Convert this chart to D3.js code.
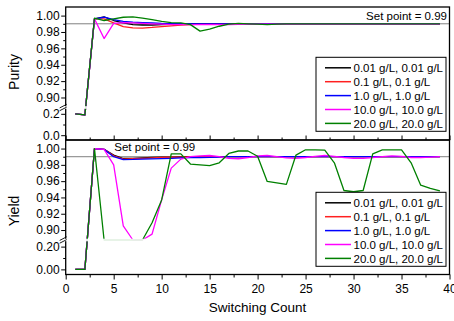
<!DOCTYPE html>
<html>
<head>
<meta charset="utf-8">
<script src="https://cdn.jsdelivr.net/npm/d3@7"></script>
<style>
body{margin:0;background:#fff}
svg{display:block;font-family:"Liberation Sans",Arial,sans-serif}
</style>
</head>
<body>
<svg id="chart" width="454" height="321"></svg>
<script>
var counts = [1,2,3,4,5,6,7,8,9,10,11,12,13,14,15,16,17,18,19,20,21,22,23,24,25,26,27,28,29,30,31,32,33,34,35,36,37,38,39]
var seriesNames = ["0.01 g/L, 0.01 g/L", "0.1 g/L, 0.1 g/L", "1.0 g/L, 1.0 g/L", "10.0 g/L, 10.0 g/L", "20.0 g/L, 20.0 g/L"]
var seriesColors = ["#000000", "#ff2020", "#0000ff", "#ff00ff", "#008000"]

var purity001 = [0.20,0.19,0.996,0.9985,0.994,0.991,0.989,0.9885,0.9885,0.989,0.9893,0.9896,0.9898,0.99,0.99,0.99,0.99,0.99,0.99,0.99,0.99,0.99,0.99,0.99,0.99,0.99,0.99,0.99,0.99,0.99,0.99,0.99,0.99,0.99,0.99,0.99,0.99,0.99,0.99]
var purity01 = [0.20,0.19,0.996,0.996,0.991,0.9865,0.985,0.9848,0.9855,0.9865,0.9875,0.9885,0.989,0.9895,0.9898,0.99,0.99,0.99,0.99,0.99,0.99,0.99,0.99,0.99,0.99,0.99,0.99,0.99,0.99,0.99,0.99,0.99,0.99,0.99,0.99,0.99,0.99,0.99,0.99]
var purity1 = [0.20,0.19,0.996,0.998,0.995,0.993,0.992,0.9915,0.991,0.9905,0.9903,0.9902,0.99,0.99,0.99,0.99,0.99,0.99,0.99,0.99,0.99,0.99,0.99,0.99,0.99,0.99,0.99,0.99,0.99,0.99,0.99,0.99,0.99,0.99,0.99,0.99,0.99,0.99,0.99]
var purity10 = [0.20,0.19,0.996,0.972,0.9905,0.9915,0.991,0.9905,0.990,0.9895,0.989,0.989,0.989,0.989,0.989,0.989,0.989,0.9892,0.9895,0.9895,0.9895,0.9895,0.9895,0.9895,0.9895,0.9895,0.9895,0.9895,0.9895,0.9895,0.9895,0.9895,0.9895,0.9895,0.9895,0.9895,0.9895,0.9895,0.9895]
var purity20 = [0.20,0.19,0.997,0.994,0.996,0.998,0.9985,0.997,0.995,0.993,0.9915,0.991,0.989,0.981,0.9835,0.987,0.9895,0.9905,0.990,0.9895,0.989,0.9895,0.990,0.99,0.99,0.99,0.99,0.99,0.99,0.99,0.99,0.99,0.99,0.99,0.99,0.99,0.99,0.99,0.99]

var yield001 = [0,0,1.0,0.999,0.992,0.9878,0.988,0.9885,0.989,0.9893,0.9895,0.9898,0.99,0.99,0.99,0.99,0.99,0.99,0.99,0.99,0.99,0.99,0.99,0.99,0.99,0.99,0.99,0.99,0.99,0.99,0.99,0.99,0.99,0.99,0.99,0.99,0.99,0.99,0.99]
var yield01 = [0,0,1.0,0.999,0.991,0.987,0.9875,0.988,0.9885,0.989,0.9893,0.9896,0.9898,0.99,0.99,0.99,0.99,0.99,0.99,0.99,0.99,0.99,0.99,0.99,0.99,0.99,0.99,0.99,0.99,0.99,0.99,0.99,0.99,0.99,0.99,0.99,0.99,0.99,0.99]
var yield1 = [0,0,1.0,0.999,0.990,0.9865,0.9866,0.987,0.9873,0.9877,0.988,0.9885,0.9888,0.989,0.9892,0.9895,0.99,0.99,0.99,0.99,0.99,0.99,0.99,0.99,0.99,0.99,0.99,0.99,0.99,0.99,0.99,0.99,0.99,0.99,0.99,0.99,0.99,0.99,0.99]
var yield10 = [0,0,1.0,0.999,0.980,0.905,0.85,0.85,0.895,0.937,0.976,0.987,0.990,0.991,0.9915,0.990,0.988,0.9875,0.989,0.991,0.9915,0.990,0.9885,0.988,0.989,0.9905,0.9915,0.9905,0.989,0.988,0.988,0.989,0.990,0.991,0.9905,0.989,0.989,0.9895,0.990]
var yield20 = [0,0,1.0,0.80,0.72,0.72,0.78,0.87,0.909,0.937,0.9935,0.9935,0.981,0.980,0.979,0.9825,0.994,0.997,0.997,0.9905,0.9597,0.958,0.956,0.992,0.9985,0.9985,0.998,0.9825,0.9485,0.947,0.9485,0.9935,0.9985,0.9985,0.9985,0.9825,0.955,0.951,0.948]

var xTicks = [0,5,10,15,20,25,30,35,40]
var xMinorTicks = [2.5,7.5,12.5,17.5,22.5,27.5,32.5,37.5]
var upperTicks = [0.90,0.92,0.94,0.96,0.98,1.00]
var upperMinorTicks = [0.91,0.93,0.95,0.97,0.99]
var lowerTicks = [0.0,0.2]
var lowerMinorTicks = [0.1]
var setPoint = 0.99

var svg = d3.select("#chart")
var x = d3.scaleLinear().domain([0,40]).range([65.7,449.5])
var left = 65.7, right = 449.5

function drawPanel(id, cfg, data, labelFmt) {
  var g = svg.append("g")
  var yUp = d3.scaleLinear().domain([0.889,1.0105]).range([cfg.breakY - 1, cfg.top])
  var yLow = d3.scaleLinear().domain([-0.045,0.245]).range([cfg.bottom, cfg.breakY + 1.5])
  var yPos = function(v) {
    if (v >= 0.889) return yUp(v)
    if (v <= 0.245) return yLow(v)
    return cfg.breakY
  }

  g.append("clipPath").attr("id", id).append("rect")
    .attr("x", left).attr("y", cfg.top).attr("width", right - left).attr("height", cfg.bottom - cfg.top)

  // set point reference
  g.append("line")
    .attr("x1", left).attr("x2", right)
    .attr("y1", yUp(setPoint)).attr("y2", yUp(setPoint))
    .attr("stroke", "#808080").attr("stroke-width", 1)

  var line = d3.line().x(function(d, i) { return x(counts[i]) }).y(function(d) { return yPos(d) })
  var lines = g.append("g").attr("clip-path", "url(#" + id + ")")
  data.forEach(function(s, i) {
    lines.append("path")
      .attr("d", line(s))
      .attr("fill", "none")
      .attr("stroke", seriesColors[i])
      .attr("stroke-width", 1.3)
      .attr("stroke-linejoin", "round")
  })
  // values inside the axis break are faded
  lines.append("rect")
    .attr("x", left).attr("y", cfg.breakY - 1.3).attr("width", right - left).attr("height", 2.6)
    .attr("fill", "#fff").attr("opacity", 0.88)

  g.append("text")
    .attr("x", cfg.spX).attr("y", cfg.spY)
    .attr("text-anchor", cfg.spAnchor)
    .attr("font-size", "11.5px")
    .text("Set point = " + setPoint)

  // legend
  var lg = g.append("g").attr("transform", "translate(316," + cfg.legendY + ")")
  lg.append("rect").attr("width", 130).attr("height", 74)
    .attr("fill", "#fff").attr("stroke", "#000").attr("stroke-width", 1)
  seriesNames.forEach(function(name, i) {
    var yy = 10.5 + i * 13.9
    lg.append("line").attr("x1", 9).attr("x2", 35).attr("y1", yy).attr("y2", yy)
      .attr("stroke", seriesColors[i]).attr("stroke-width", 1.5)
    lg.append("text").attr("x", 37.5).attr("y", yy).attr("dy", "0.36em")
      .attr("font-size", "11.5px").text(name)
  })

  // axes
  var axUp = g.append("g").attr("transform", "translate(" + left + ",0)")
    .call(d3.axisLeft(yUp).tickValues(upperTicks).tickFormat(d3.format(".2f")).tickSize(4.5).tickPadding(1.5))
  var axUpMinor = g.append("g").attr("transform", "translate(" + left + ",0)")
    .call(d3.axisLeft(yUp).tickValues(upperMinorTicks).tickFormat("").tickSize(2.5))
  var axLow = g.append("g").attr("transform", "translate(" + left + ",0)")
    .call(d3.axisLeft(yLow).tickValues(lowerTicks).tickFormat(d3.format(labelFmt)).tickSize(4.5).tickPadding(1.5))
  var axLowMinor = g.append("g").attr("transform", "translate(" + left + ",0)")
    .call(d3.axisLeft(yLow).tickValues(lowerMinorTicks).tickFormat("").tickSize(2.5))

  var axX, axXMinor
  if (cfg.showX) {
    axX = g.append("g").attr("transform", "translate(0," + cfg.bottom + ")")
      .call(d3.axisBottom(x).tickValues(xTicks).tickFormat(d3.format("d")).tickSize(5).tickPadding(4.5))
    axXMinor = g.append("g").attr("transform", "translate(0," + cfg.bottom + ")")
      .call(d3.axisBottom(x).tickValues(xMinorTicks).tickFormat("").tickSize(3))
  } else {
    axX = g.append("g").attr("transform", "translate(0," + cfg.bottom + ")")
      .call(d3.axisTop(x).tickValues(xTicks).tickFormat("").tickSize(4.5))
    axXMinor = g.append("g").attr("transform", "translate(0," + cfg.bottom + ")")
      .call(d3.axisTop(x).tickValues(xMinorTicks).tickFormat("").tickSize(2.5))
  }
  ;[axUp, axUpMinor, axLow, axLowMinor, axX, axXMinor].forEach(function(a) {
    a.select(".domain").remove()
    a.selectAll("line").attr("stroke", "#000").attr("stroke-width", 1)
    a.selectAll("text").attr("font-size", "12px").attr("font-family", "Liberation Sans, Arial, sans-serif").attr("fill", "#000")
  })

  g.append("rect")
    .attr("x", left).attr("y", cfg.top).attr("width", right - left).attr("height", cfg.bottom - cfg.top)
    .attr("fill", "none").attr("stroke", "#000").attr("stroke-width", 1.3)

  // axis break marks
  g.append("rect").attr("x", left - 1.5).attr("y", cfg.breakY - 1.2).attr("width", 3).attr("height", 2.4).attr("fill", "#fff")
  ;[-1.4, 1.4].forEach(function(o) {
    g.append("line")
      .attr("x1", left - 6).attr("y1", cfg.breakY + o + 1.8)
      .attr("x2", left + 1).attr("y2", cfg.breakY + o - 1.8)
      .attr("stroke", "#000").attr("stroke-width", 0.9)
  })

  g.append("text")
    .attr("transform", "translate(18.5," + cfg.titleY + ") rotate(-90)")
    .attr("text-anchor", "middle")
    .attr("font-size", "14px")
    .text(cfg.title)
}

drawPanel("clipTop", {top: 7, bottom: 140, breakY: 107.5, showX: false, title: "Purity", titleY: 72,
  spX: 447, spY: 19.5, spAnchor: "end", legendY: 57.3},
  [purity001, purity01, purity1, purity10, purity20], ".1f")

drawPanel("clipBottom", {top: 140, bottom: 274.5, breakY: 240, showX: true, title: "Yield", titleY: 211,
  spX: 114.3, spY: 151, spAnchor: "start", legendY: 192.3},
  [yield001, yield01, yield1, yield10, yield20], ".2f")

svg.append("text")
  .attr("x", (left + right) / 2).attr("y", 312.3)
  .attr("text-anchor", "middle")
  .attr("font-size", "13.5px")
  .text("Switching Count")
</script>
</body>
</html>
